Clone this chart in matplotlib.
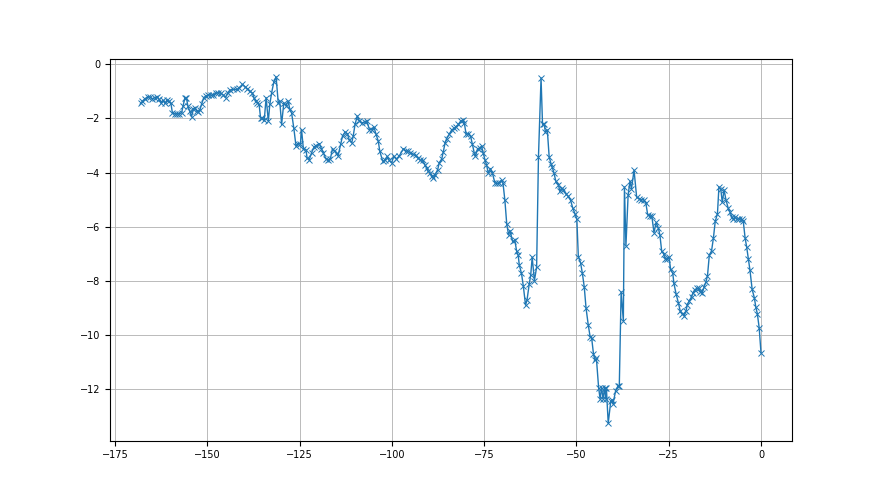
import matplotlib
matplotlib.use("Agg")
import matplotlib.pyplot as plt

# values
x_vals = [
    -168.0, -167.6, -166.9, -166.2, -165.6, -165.0, -164.2, -163.6, -163.1, -162.6,
    -162.0, -161.5, -161.0, -160.4, -159.9, -159.5, -158.9, -158.3, -157.7, -157.0,
    -156.6, -156.1, -155.7, -155.3, -154.8, -154.3, -153.8, -153.4, -152.9, -152.5,
    -152.0, -151.6, -151.0, -150.4, -149.8, -149.1, -148.5, -147.8, -147.1, -146.4,
    -145.7, -145.1, -144.5, -143.9, -143.0, -142.1, -141.4, -140.5, -139.8, -139.2,
    -138.5, -137.8, -137.4, -136.9, -136.5, -136.0, -135.6, -135.1, -134.6, -134.1,
    -133.5, -133.1, -132.6, -132.0, -131.4, -130.8, -130.4, -129.9, -129.3, -128.7,
    -128.1, -127.7, -127.2, -126.6, -126.0, -125.5, -124.8, -124.5, -124.0, -123.3,
    -123.0, -122.4, -121.8, -121.1, -120.5, -119.7, -119.1, -118.6, -117.9, -117.4,
    -116.7, -116.1, -115.6, -115.0, -114.6, -113.9, -113.4, -112.7, -112.1, -111.6,
    -110.9, -110.5, -110.0, -109.4, -108.8, -108.0, -107.4, -106.8, -106.1, -105.5,
    -104.9, -104.3, -103.7, -103.3, -102.5, -101.9, -101.3, -100.8, -100.1, -99.5,
    -98.8, -98.0, -96.9, -96.3, -95.7, -95.0, -94.2, -93.6, -93.0, -92.3,
    -91.7, -91.1, -90.6, -90.2, -89.7, -89.2, -88.8, -88.3, -87.6, -87.2,
    -86.5, -86.1, -85.6, -85.2, -84.5, -83.8, -83.2, -82.7, -82.0, -81.4,
    -80.8, -80.4, -79.9, -79.3, -78.7, -78.2, -77.7, -77.4, -76.8, -76.2,
    -75.7, -75.3, -74.8, -74.4, -73.9, -73.3, -72.8, -72.1, -71.5, -71.0,
    -70.3, -69.9, -69.4, -68.9, -68.4, -68.0, -67.3, -66.7, -66.2, -65.8,
    -65.5, -64.9, -64.4, -63.8, -63.4, -62.8, -62.4, -62.0, -61.4, -60.8,
    -60.3, -59.6, -59.2, -58.8, -58.4, -57.9, -57.4, -56.9, -56.6, -56.1,
    -55.6, -54.9, -54.5, -54.0, -53.6, -52.9, -52.2, -51.6, -51.0, -50.4,
    -49.9, -49.5, -48.9, -48.4, -47.9, -47.4, -46.8, -46.3, -45.9, -45.4,
    -45.0, -44.6, -44.0, -43.6, -43.2, -42.8, -42.4, -42.1, -41.9, -41.4,
    -40.7, -40.3, -40.1, -39.4, -38.8, -38.4, -37.9, -37.3, -37.0, -36.6,
    -36.0, -35.5, -35.1, -34.4, -33.7, -33.0, -32.4, -31.8, -31.2, -30.7,
    -30.1, -29.6, -29.0, -28.4, -27.8, -27.4, -26.9, -26.4, -26.0, -25.6,
    -24.9, -24.5, -23.9, -23.6, -23.0, -22.4, -21.9, -21.3, -20.8, -20.3,
    -20.0, -19.4, -18.8, -18.4, -18.0, -17.4, -16.7, -16.4, -15.9, -15.4,
    -14.9, -14.5, -14.0, -13.4, -12.9, -12.4, -11.8, -11.4, -10.9, -10.5,
    -10.0, -9.5, -8.9, -8.4, -7.9, -7.5, -7.0, -6.6, -5.9, -5.2,
    -4.8, -4.3, -3.9, -3.4, -3.0, -2.4, -1.8, -1.4, -1.0, -0.5,
    0.0,
]

y_vals = [
    -1.44, -1.36, -1.27, -1.20, -1.20, -1.27, -1.23, -1.20, -1.30, -1.42,
    -1.33, -1.44, -1.33, -1.36, -1.44, -1.79, -1.83, -1.83, -1.83, -1.79,
    -1.54, -1.23, -1.23, -1.54, -1.73, -1.94, -1.64, -1.60, -1.73, -1.77,
    -1.67, -1.48, -1.23, -1.17, -1.14, -1.14, -1.14, -1.07, -1.05, -1.07,
    -1.14, -1.23, -1.05, -0.95, -0.93, -0.93, -0.88, -0.74, -0.83, -0.90,
    -0.99, -1.07, -1.23, -1.36, -1.42, -1.48, -1.98, -2.00, -2.06, -1.23,
    -2.10, -1.48, -1.05, -0.65, -0.46, -1.44, -1.36, -2.22, -1.42, -1.53,
    -1.36, -1.65, -1.79, -2.35, -3.02, -2.93, -2.93, -2.41, -3.12, -3.15,
    -3.46, -3.52, -3.27, -3.05, -3.00, -2.93, -3.12, -3.27, -3.49, -3.54,
    -3.49, -3.12, -3.20, -3.27, -3.38, -2.96, -2.65, -2.50, -2.56, -2.78,
    -2.90, -2.65, -2.22, -1.91, -2.10, -2.16, -2.13, -2.10, -2.41, -2.41,
    -2.31, -2.59, -2.84, -3.21, -3.58, -3.54, -3.40, -3.54, -3.64, -3.40,
    -3.50, -3.38, -3.12, -3.20, -3.20, -3.27, -3.33, -3.36, -3.46, -3.54,
    -3.54, -3.70, -3.83, -3.95, -4.01, -4.14, -4.20, -4.07, -3.89, -3.64,
    -3.49, -3.24, -2.90, -2.75, -2.59, -2.42, -2.37, -2.31, -2.22, -2.10,
    -2.06, -2.16, -2.59, -2.56, -2.65, -2.96, -3.27, -3.40, -3.12, -3.09,
    -3.02, -3.27, -3.52, -3.70, -4.01, -3.85, -4.01, -4.38, -4.40, -4.40,
    -4.28, -4.40, -5.02, -5.89, -6.30, -6.14, -6.54, -6.50, -6.91, -7.04,
    -7.41, -7.72, -8.19, -8.89, -8.70, -8.11, -7.78, -7.12, -7.99, -7.49,
    -3.42, -0.50, -2.22, -2.19, -2.50, -2.43, -3.42, -3.67, -3.79, -4.01,
    -4.32, -4.44, -4.69, -4.57, -4.65, -4.78, -4.88, -5.02, -5.31, -5.52,
    -5.72, -7.10, -7.32, -7.72, -8.21, -9.01, -9.63, -10.06, -10.09, -10.68,
    -10.93, -10.86, -11.94, -12.35, -11.94, -12.35, -11.94, -12.35, -11.94, -13.25,
    -12.43, -12.38, -12.53, -12.06, -11.89, -11.89, -8.40, -9.47, -4.53, -6.70,
    -4.81, -4.32, -4.60, -3.91, -4.90, -4.97, -5.00, -5.00, -5.12, -5.56,
    -5.60, -5.59, -6.21, -5.84, -6.05, -6.30, -6.91, -6.99, -7.17, -7.20,
    -7.13, -7.57, -7.72, -8.09, -8.48, -8.80, -9.10, -9.20, -9.28, -9.10,
    -8.89, -8.72, -8.58, -8.43, -8.33, -8.27, -8.27, -8.40, -8.43, -8.21,
    -8.02, -7.81, -7.04, -6.89, -6.42, -5.80, -5.52, -4.53, -4.60, -5.10,
    -4.64, -5.00, -5.31, -5.46, -5.62, -5.72, -5.64, -5.72, -5.70, -5.73,
    -5.80, -6.42, -6.73, -7.20, -7.59, -8.31, -8.62, -8.97, -9.20, -9.72,
    -10.65,
]


def main() -> None:
    plt.rcParams.update({"font.size": 7})
    fig, ax = plt.subplots(figsize=(8.8, 4.95), dpi=100)
    ax.plot(x_vals, y_vals, color="#1f77b4", marker="x", markersize=3.8,
            linewidth=1.0, markeredgewidth=0.7)
    ax.grid(True, color="#b0b0b0", linewidth=0.6)
    fig.savefig("out.png", dpi=100)
    plt.close(fig)


if __name__ == "__main__":
    main()
